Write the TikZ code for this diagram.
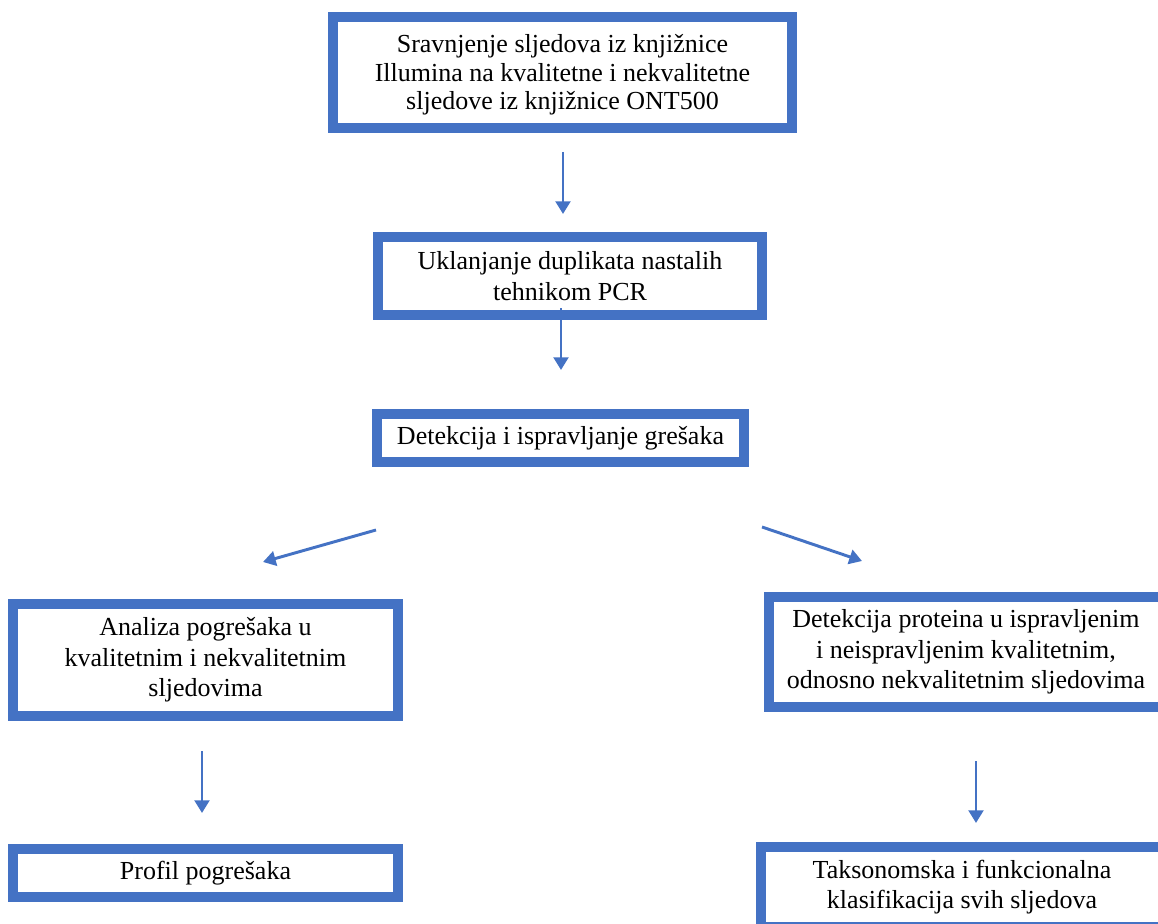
\documentclass[tikz,border=0pt]{standalone}
\usepackage{fontspec}
\setmainfont{Liberation Serif}
\usetikzlibrary{arrows.meta,calc}
\definecolor{wblue}{HTML}{4472C4}
\tikzset{
  box/.style={draw=wblue, line width=7.5pt, fill=white, rectangle, outer sep=0pt, inner sep=0pt,
    align=center, font=\fontsize{19.5}{23}\selectfont, text=black},
  txt/.style={align=center, inner sep=0pt, font=\fontsize{19.5}{21.5}\selectfont, text=black},
  arr/.style={draw=wblue, line width=2.2pt, -{Triangle[width=11pt,length=9.5pt]}}
}
\begin{document}
\begin{tikzpicture}[x=0.75pt,y=-0.75pt]
\useasboundingbox (0,0) rectangle (1158,924);
\clip (0,0) rectangle (1158,924);
\fill[white] (0,0) rectangle (1158,924);
\node[box, minimum width=459*0.75pt, minimum height=111*0.75pt] (b1) at (562.5,72.5) {};
\node[txt] (t1) at ($(b1.center)+(0,2.5)$)
  {Sravnjenje sljedova iz knjižnice\\Illumina na kvalitetne i nekvalitetne\\sljedove iz knjižnice ONT500};
\node[box, minimum width=384*0.75pt, minimum height=78*0.75pt] (b2) at (570,276)
  {Uklanjanje duplikata nastalih\\tehnikom PCR};
\node[box, minimum width=367*0.75pt, minimum height=48*0.75pt] (b3) at (560.5,438)
  {Detekcija i ispravljanje grešaka};
\node[box, minimum width=385*0.75pt, minimum height=112*0.75pt] (b4) at (205.5,660)
  {Analiza pogrešaka u\\kvalitetnim i nekvalitetnim\\sljedovima};
\node[box, minimum width=394*0.75pt, minimum height=110*0.75pt] (b5) at (966,652)
  {Detekcija proteina u ispravljenim\\i neispravljenim kvalitetnim,\\odnosno nekvalitetnim sljedovima};
\node[box, minimum width=385*0.75pt, minimum height=48*0.75pt] (b6) at (205.5,873)
  {Profil pogrešaka};
\node[box, minimum width=402*0.75pt, minimum height=80*0.75pt] (b7) at (962,887)
  {Taksonomska i funkcionalna\\klasifikacija svih sljedova};
\draw[arr] ($(b1.south)+(0.5,24)$) -- ($(b2.north)+(-7,-23)$);
\draw[arr] ($(b2.south)+(-9,-7)$) -- ($(b3.north)+(0.5,-44)$);
\draw[arr] ($(b3.south)+(-184.5,68)$) -- ($(b4.north)+(57.5,-42)$);
\draw[arr] ($(b3.south)+(201.5,65)$) -- ($(b5.north)+(-104,-36)$);
\draw[arr] ($(b4.south)+(-3.5,35)$) -- ($(b6.north)+(-3.5,-36)$);
\draw[arr] ($(b5.south)+(10,54)$) -- ($(b7.north)+(14,-24)$);
\end{tikzpicture}
\end{document}
